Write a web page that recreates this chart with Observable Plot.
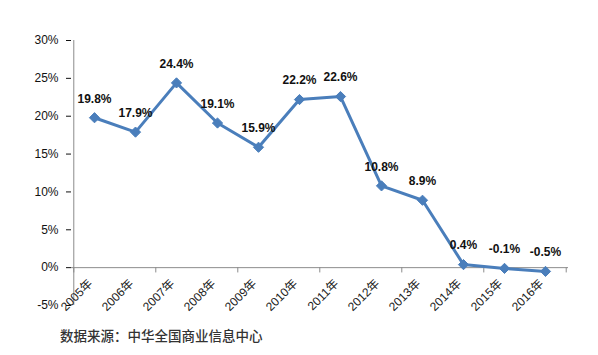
<!DOCTYPE html>
<html>
<head>
<meta charset="utf-8">
<script src="https://cdn.jsdelivr.net/npm/d3@7"></script>
<script src="https://cdn.jsdelivr.net/npm/@observablehq/plot@0.6"></script>
<style>
  body { margin: 0; background: #fff; }
  #chart svg { display: block; overflow: visible; }
  #caption { font-family: "Noto Sans CJK SC", sans-serif; font-size: 13.5px; font-weight: 500; color: #333; padding-left: 60px; margin-top: 6px; line-height: 18px; }
</style>
</head>
<body>
<div id="chart"></div>
<div id="caption">数据来源：中华全国商业信息中心</div>
<script>
const years = ["2005年","2006年","2007年","2008年","2009年","2010年","2011年","2012年","2013年","2014年","2015年","2016年"];
const growth = [19.8, 17.9, 24.4, 19.1, 15.9, 22.2, 22.6, 10.8, 8.9, 0.4, -0.1, -0.5];
const yTicks = [-5, 0, 5, 10, 15, 20, 25, 30];

const data = years.map((y, i) => ({year: y, value: growth[i]}));

const W = 598, H = 320, mL = 71, mR = 30, mT = 40, mB = 15;
const step = (W - mL - mR) / years.length;
const tickYears = years.filter((d, i) => i % 2 === 0);
const blue = "#4a7ebb";
const axisGray = "#8c8c8c";

const chart = Plot.plot({
  width: W, height: H,
  marginLeft: mL, marginRight: mR, marginTop: mT, marginBottom: mB,
  style: {fontFamily: "'Liberation Sans', Arial, 'Noto Sans CJK SC', sans-serif", fontSize: "12px", color: "#111", background: "#fff"},
  x: {type: "point", domain: years, padding: 0.5, axis: null},
  y: {domain: [-5, 30], ticks: yTicks, tickFormat: d => d + "%", tickSize: 5, tickPadding: 8, label: null},
  marks: [
    // y axis line
    Plot.ruleX([years[0]], {y1: -5, y2: 30, dx: -step / 2, stroke: axisGray}),
    // x axis line at 0
    Plot.ruleY([0], {stroke: axisGray}),
    // x category boundary ticks
    Plot.ruleX(tickYears, {y1: 0, y2: -0.7, dx: -step / 2, stroke: axisGray}),
    Plot.ruleX([years[years.length - 1]], {y1: 0, y2: -0.7, dx: step / 2, stroke: axisGray}),
    // x labels
    Plot.text(years, {x: d => d, y: 0, text: d => d, rotate: -45, textAnchor: "end", dx: -4, dy: 14, fill: "#222", fontSize: 12}),
    Plot.line(data, {x: "year", y: "value", stroke: blue, strokeWidth: 3}),
    Plot.dot(data, {x: "year", y: "value", symbol: "diamond2", r: 4.6, fill: blue, stroke: blue, strokeWidth: 1}),
    Plot.text(data, {x: "year", y: "value", text: d => d.value.toFixed(1) + "%", dy: -19, fontWeight: "bold", fontSize: 12, fill: "#111"})
  ]
});
document.getElementById("chart").appendChild(chart);
</script>
</body>
</html>
